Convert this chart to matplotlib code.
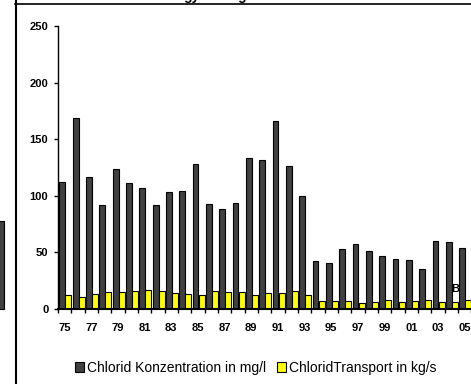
import matplotlib
matplotlib.use("Agg")
import matplotlib.pyplot as plt
from matplotlib.patches import Patch, Rectangle
from matplotlib.lines import Line2D
import numpy as np

plt.rcParams['font.family'] = ['Liberation Sans', 'DejaVu Sans']

years = ['75', '76', '77', '78', '79', '80', '81', '82', '83', '84', '85', '86', '87', '88', '89',
         '90', '91', '92', '93', '94', '95', '96', '97', '98', '99', '00', '01', '02', '03', '04', '05']
konzentration = [112, 169, 117, 92, 124, 111, 107, 92, 103, 104, 128, 93, 88, 94, 133,
                 132, 166, 126, 100, 42, 41, 53, 57, 51, 47, 44, 43, 35, 60, 59, 54]
transport = [12, 11, 13, 15, 15, 16, 17, 16, 14, 13, 12, 16, 15, 15, 12,
             14, 14, 16, 12, 7, 7, 7, 5, 6, 8, 6, 7, 8, 6, 6, 8]
yticks = [0, 50, 100, 150, 200, 250]
label1 = 'Chlorid Konzentration in mg/l'
label2 = 'ChloridTransport in kg/s'

W, H = 471, 384
fig = plt.figure(figsize=(W / 100, H / 100), dpi=100)

cat_px = 13.33
n_cats = 32
ax_left = 58
ax_bottom = 309
ax_top = 26
ax = fig.add_axes([ax_left / W, (H - ax_bottom) / H, n_cats * cat_px / W, (ax_bottom - ax_top) / H])

x = np.arange(len(years))
bw = 0.44
dark = '#404040'
yellow = '#FFFF00'
ax.bar(x - bw / 2 + 0.04, konzentration, width=bw, color=dark, edgecolor='black', linewidth=0.8, zorder=2)
ax.bar(x + bw / 2 + 0.06, transport, width=bw, color=yellow, edgecolor='black', linewidth=0.8, zorder=2)

ax.set_xlim(-0.5, n_cats - 0.5)
ax.set_ylim(0, 250)
ax.set_yticks(yticks)
ax.set_yticklabels([str(v) for v in yticks], fontsize=8, fontweight='bold')
ax.tick_params(axis='y', direction='out', length=3, width=1, pad=4)

ax.set_xticks(x[::2])
ax.set_xticklabels(years[::2], fontsize=8, fontweight='bold')
ax.set_xticks(np.arange(-0.5, n_cats - 0.5 + 0.01, 1.0), minor=True)
ax.tick_params(axis='x', which='major', length=0, pad=10)
ax.tick_params(axis='x', which='minor', direction='out', length=3, width=1)

for s in ['top', 'right']:
    ax.spines[s].set_visible(False)
ax.spines['left'].set_linewidth(1.0)
ax.spines['bottom'].set_linewidth(1.5)
ax.set_facecolor('none')

# stray "B" label
fig.text(455 / W, 1 - 289 / H, 'B', fontsize=8, fontweight='bold', ha='center', va='center')

# frame lines of the surrounding layout
fig.add_artist(Line2D([15.5 / W, 15.5 / W], [0, 1], color='black', linewidth=1.5))
fig.add_artist(Line2D([15 / W, 1], [1 - 4 / H, 1 - 4 / H], color='black', linewidth=1.2))
# partial neighbouring bar at left edge
fig.add_artist(Rectangle((-2 / W, (H - 309) / H), 6 / W, 88 / H, facecolor=dark,
                         edgecolor='black', linewidth=0.8, transform=fig.transFigure))

# title descenders cut off at top
fig.text(183 / W, 1.0, 'gy', fontsize=10, fontweight='bold', ha='left', va='baseline')
fig.text(237 / W, 1.0, 'g', fontsize=10, fontweight='bold', ha='left', va='baseline')

handles = [Patch(facecolor=dark, edgecolor='black', linewidth=0.8),
           Patch(facecolor=yellow, edgecolor='black', linewidth=0.8)]
fig.legend(handles, [label1, label2], loc='center left', bbox_to_anchor=(75 / W, 1 - 368 / H),
           ncol=2, frameon=False, fontsize=10, handlelength=0.65, handleheight=0.65,
           handletextpad=0.2, columnspacing=0.8, borderpad=0, borderaxespad=0)

fig.savefig('out.png', dpi=100)
